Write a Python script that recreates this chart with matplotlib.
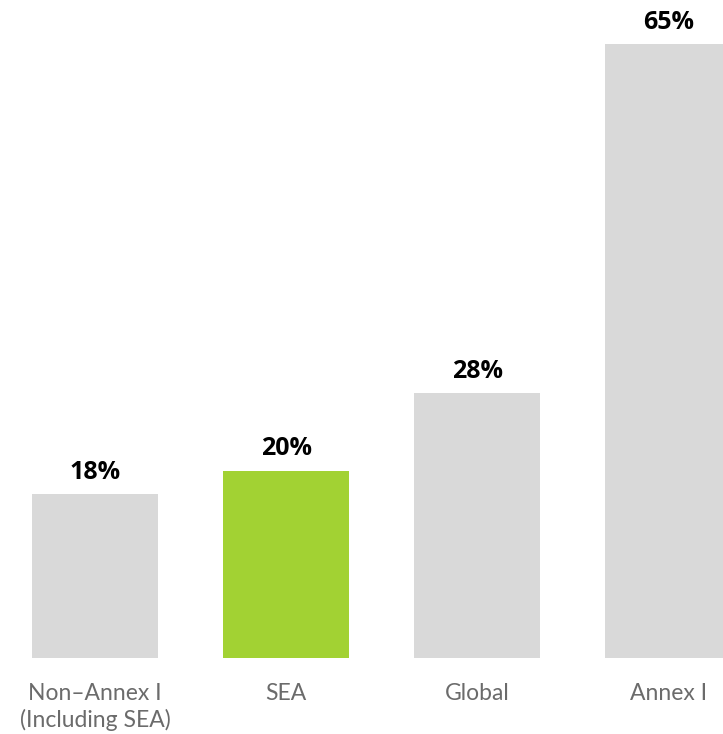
import matplotlib
matplotlib.use("Agg")
import matplotlib.pyplot as plt

categories = ["Non\u2013Annex I\n(Including SEA)", "SEA", "Global", "Annex I"]
values = [17.3, 19.8, 28.0, 65.0]
value_labels = ["18%", "20%", "28%", "65%"]
colors = ["#d9d9d9", "#a2d233", "#d9d9d9", "#d9d9d9"]

fig = plt.figure(figsize=(7.23, 7.34), dpi=100)
ax = fig.add_axes([0, 0.104, 1, 0.896])

x = list(range(len(categories)))
ax.bar(x, values, width=0.66, color=colors)

for xi, v, lab in zip(x, values, value_labels):
    ax.annotate(lab, (xi, v), xytext=(0, 7), textcoords="offset points",
                ha="center", va="bottom", fontsize=18, fontweight="bold",
                family="Open Sans", color="black")

ax.set_xlim(-0.497, 3.285)
ax.set_ylim(0, 69.7)
ax.set_xticks(x)
ax.set_xticklabels(categories, fontsize=16.5, color="#6b6b6b", family="Lato",
                   fontweight="normal", linespacing=1.3, va="top")
ax.tick_params(axis="x", length=0, pad=18)
ax.set_yticks([])
for s in ax.spines.values():
    s.set_visible(False)

fig.savefig("out.png", dpi=100)
